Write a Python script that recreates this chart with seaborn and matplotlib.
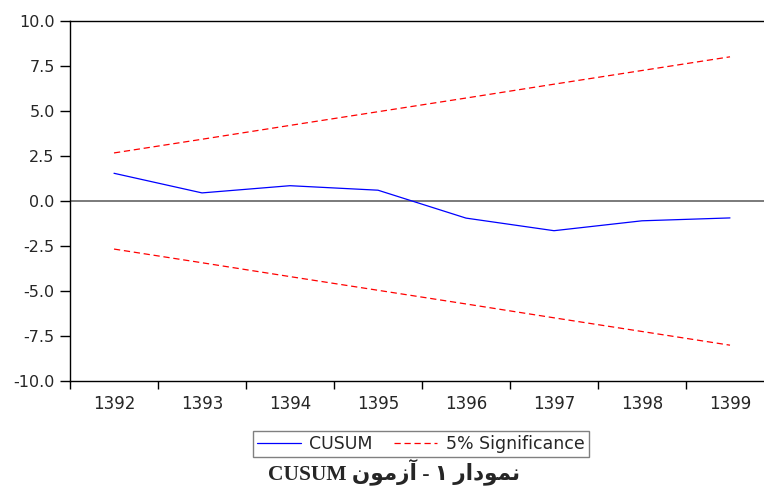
import pandas as pd
import seaborn as sns
import matplotlib.pyplot as plt

years = ['1392', '1393', '1394', '1395', '1396', '1397', '1398', '1399']
cusum = [1.54, 0.45, 0.85, 0.60, -0.95, -1.65, -1.10, -0.94]
upper = [2.67, 3.43, 4.20, 4.96, 5.72, 6.49, 7.25, 8.01]
lower = [-2.67, -3.43, -4.20, -4.96, -5.72, -6.49, -7.25, -8.01]
y_ticks = [-10.0, -7.5, -5.0, -2.5, 0.0, 2.5, 5.0, 7.5, 10.0]

# caption, Arabic presentation forms in visual (left-to-right) order
word_azmoon = '\uFEE5\uFEEE\uFEE3\uFEAF\uFE81'
word_nemoodar = '\uFEAD\uFE8D\uFEA9\uFEEE\uFEE4\uFEE7'
caption = 'CUSUM ' + word_azmoon + ' - \u06F1 ' + word_nemoodar

sns.set_theme(style='white', rc={'axes.edgecolor': 'black', 'axes.linewidth': 1.0})
plt.rcParams['font.family'] = ['DejaVu Sans']

df = pd.DataFrame({'year': years, 'CUSUM': cusum, 'upper': upper, 'lower': lower})

fig = plt.figure(figsize=(7.64, 4.88), dpi=100)
ax = fig.add_axes([70 / 764, 1 - 381 / 488, 704 / 764, 360 / 488])

ax.axhline(0, color='#707070', linewidth=1.3, zorder=1)
sns.lineplot(data=df, x='year', y='CUSUM', ax=ax, color='#0000ff', linewidth=0.9, label='CUSUM')
sns.lineplot(data=df, x='year', y='upper', ax=ax, color='#ff0000', linewidth=0.9,
             linestyle=(0, (5, 3)), label='5% Significance')
sns.lineplot(data=df, x='year', y='lower', ax=ax, color='#ff0000', linewidth=0.9,
             linestyle=(0, (5, 3)), legend=False)

ax.set_xlim(-0.5, len(years) - 0.5)
ax.set_ylim(-10, 10)
ax.set_yticks(y_ticks)
ax.set_yticklabels([f'{v:.1f}' for v in y_ticks])
ax.set_xticks([i - 0.5 for i in range(len(years))])
ax.set_xticklabels([])
ax.set_xticks(range(len(years)), minor=True)
ax.set_xticklabels(years, minor=True)
ax.tick_params(axis='x', which='major', direction='out', length=6, width=1, color='black', bottom=True)
ax.tick_params(axis='x', which='minor', length=0, labelsize=12, pad=10)
ax.tick_params(axis='y', direction='out', length=7, width=1, color='black', left=True, labelsize=11.5, pad=4)
ax.set_xlabel('')
ax.set_ylabel('')
ax.spines['right'].set_visible(False)

handles, labels = ax.get_legend_handles_labels()
ax.get_legend().remove()
leg = fig.legend(handles, labels, loc='center', bbox_to_anchor=(421 / 764, 1 - 444 / 488), ncol=2,
                 fancybox=False, edgecolor='#808080', framealpha=1, fontsize=12.5,
                 handlelength=2.5, columnspacing=1.2, borderpad=0.25, handletextpad=0.5)
leg.get_frame().set_linewidth(1.0)

fig.text(394 / 764, 1 - 472 / 488, caption, ha='center', va='center', fontsize=15.5,
         fontweight='bold', family=['Liberation Serif', 'DejaVu Sans'])

fig.savefig('out.png', dpi=100)
